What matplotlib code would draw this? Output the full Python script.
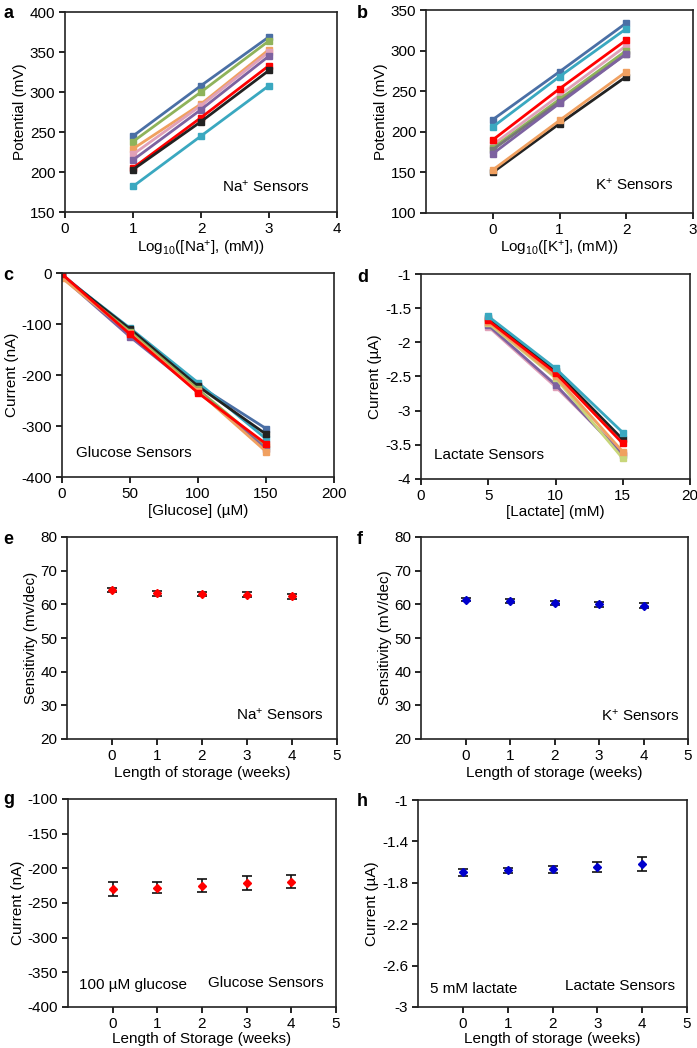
import matplotlib
matplotlib.use("Agg")
import matplotlib.pyplot as plt
import numpy as np

plt.rcParams['font.family'] = ['Liberation Sans', 'DejaVu Sans']
plt.rcParams['mathtext.fontset'] = 'custom'
plt.rcParams['mathtext.rm'] = 'Liberation Sans'
plt.rcParams['mathtext.it'] = 'Liberation Sans'
plt.rcParams['font.size'] = 11
plt.rcParams['axes.unicode_minus'] = False

W, H = 697, 1048

# ---- data ----
# a: Na+ sensors, potential (mV) vs log10 [Na+]
na_x = [1, 2, 3]
na_series = {
    'blue':   [245, 308, 369],
    'green':  [238, 300, 364],
    'orange': [229, 285, 353],
    'pink':   [222, 283, 350],
    'purple': [215, 278, 345],
    'red':    [205, 268, 333],
    'black':  [203, 263, 327],
    'cyan':   [182, 245, 308],
}

# b: K+ sensors
k_x = [0, 1, 2]
k_series = {
    'blue':   [215, 274, 334],
    'cyan':   [206, 268, 327],
    'pink':   [184, 245, 306],
    'green':  [180, 240, 300],
    'gray':   [178, 237, 296],
    'purple': [173, 235, 296],
    'red':    [190, 253, 313],
    'black':  [150, 210, 268],
    'orange': [153, 214, 274],
}

# c: glucose sensors, current (nA)
glu_x = [0, 50, 100, 150]
glu_series = {
    'blue':   [-3, -112, -220, -305],
    'cyan':   [-5, -108, -215, -325],
    'black':  [-5, -110, -222, -316],
    'green':  [-8, -115, -228, -340],
    'purple': [-8, -125, -232, -345],
    'orange': [-10, -118, -232, -350],
    'red':    [-2, -120, -235, -335],
}

# d: lactate sensors, current (uA)
lac_x = [5, 10, 15]
lac_series = {
    'pink':   [-1.77, -2.65, -3.62],
    'purple': [-1.75, -2.62, -3.65],
    'yellow': [-1.72, -2.52, -3.70],
    'orange': [-1.70, -2.50, -3.60],
    'black':  [-1.65, -2.42, -3.42],
    'red':    [-1.68, -2.45, -3.48],
    'cyan':   [-1.62, -2.38, -3.32],
}

weeks = [0, 1, 2, 3, 4]
na_sens = [64.2, 63.3, 63.1, 62.9, 62.4]
na_sens_err = [0.6, 0.7, 0.7, 0.7, 0.8]
k_sens = [61.4, 60.9, 60.4, 60.0, 59.6]
k_sens_err = [0.5, 0.6, 0.7, 0.7, 0.8]
glu_cur = [-230, -228, -225, -221, -219]
glu_cur_err = [10, 8, 9, 10, 10]
lac_cur = [-1.70, -1.68, -1.67, -1.65, -1.62]
lac_cur_err = [0.03, 0.025, 0.035, 0.05, 0.07]

colors = {
    'blue': '#4a6fa5', 'green': '#8fb35a', 'orange': '#f0a060',
    'pink': '#e0a0b8', 'purple': '#7d62a0', 'red': '#ff0000',
    'black': '#222222', 'cyan': '#3aa8c0', 'gray': '#777777',
    'yellow': '#c8d67a',
}


def add_ax(l, t, r, b):
    ax = fig.add_axes([l / W, 1 - b / H, (r - l) / W, (b - t) / H])
    ax.tick_params(direction='out', length=4, width=1.2, top=False, right=False, pad=3)
    for s in ax.spines.values():
        s.set_linewidth(1.2)
        s.set_color('#222222')
    return ax


def lines(ax, x, series, marker='s'):
    for name, y in series.items():
        ax.plot(x, y, '-', marker=marker, color=colors[name], lw=2,
                ms=5, mec=colors[name])


def errs(ax, y, e, mcolor):
    ax.errorbar(weeks, y, yerr=e, fmt='D', color=mcolor, ms=4,
                ecolor='#111111', elinewidth=1.2, capsize=3.5, capthick=1.2)


def label(ax, x, y, s, ha='center'):
    ax.text(x, y, s, transform=ax.transAxes, ha=ha, va='center')


fig = plt.figure(figsize=(W / 100, H / 100), dpi=100)

# a
ax = add_ax(65, 12, 337, 212)
lines(ax, na_x, na_series)
ax.set_xlim(0, 4)
ax.set_ylim(150, 400)
ax.set_xticks([0, 1, 2, 3, 4])
ax.set_yticks(range(150, 401, 50))
ax.set_xlabel(r'Log$_{10}$([Na$^{+}$], (mM))', labelpad=2)
ax.set_ylabel('Potential (mV)', labelpad=2)
label(ax, 0.74, 0.125, r'Na$^{+}$ Sensors')

# b
ax = add_ax(426, 10, 693, 213)
lines(ax, k_x, k_series)
ax.set_xlim(-1, 3)
ax.set_ylim(100, 350)
ax.set_xticks([0, 1, 2, 3])
ax.set_yticks(range(100, 351, 50))
ax.set_xlabel(r'Log$_{10}$([K$^{+}$], (mM))', labelpad=2)
ax.set_ylabel('Potential (mV)', labelpad=2)
label(ax, 0.78, 0.14, r'K$^{+}$ Sensors')

# c
ax = add_ax(62, 273, 334, 477)
lines(ax, glu_x, glu_series)
ax.set_xlim(0, 200)
ax.set_ylim(-400, 0)
ax.set_xticks(range(0, 201, 50))
ax.set_yticks(range(-400, 1, 100))
ax.set_xlabel('[Glucose] (µM)', labelpad=2)
ax.set_ylabel('Current (nA)', labelpad=2)
label(ax, 0.05, 0.12, 'Glucose Sensors', ha='left')

# d
ax = add_ax(421, 274, 690, 479)
lines(ax, lac_x, lac_series)
ax.set_xlim(0, 20)
ax.set_ylim(-4, -1)
ax.set_xticks(range(0, 21, 5))
ax.set_yticks([-4, -3.5, -3, -2.5, -2, -1.5, -1])
ax.set_yticklabels(['-4', '-3.5', '-3', '-2.5', '-2', '-1.5', '-1'])
ax.set_xlabel('[Lactate] (mM)', labelpad=2)
ax.set_ylabel('Current (µA)', labelpad=2)
label(ax, 0.05, 0.117, 'Lactate Sensors', ha='left')

# e
ax = add_ax(67, 537, 337, 739)
errs(ax, na_sens, na_sens_err, '#ff0000')
ax.set_xlim(-1, 5)
ax.set_ylim(20, 80)
ax.set_xticks(range(0, 6))
ax.set_yticks(range(20, 81, 10))
ax.set_xlabel('Length of storage (weeks)', labelpad=2)
ax.set_ylabel('Sensitivity (mv/dec)', labelpad=2)
label(ax, 0.79, 0.12, r'Na$^{+}$ Sensors')

# f
ax = add_ax(421, 537, 688, 739)
errs(ax, k_sens, k_sens_err, '#0000cc')
ax.set_xlim(-1, 5)
ax.set_ylim(20, 80)
ax.set_xticks(range(0, 6))
ax.set_yticks(range(20, 81, 10))
ax.set_xlabel('Length of storage (weeks)', labelpad=2)
ax.set_ylabel('Sensitivity (mV/dec)', labelpad=2)
label(ax, 0.82, 0.115, r'K$^{+}$ Sensors')

# g
ax = add_ax(68, 799, 336, 1007)
errs(ax, glu_cur, glu_cur_err, '#ff0000')
ax.set_xlim(-1, 5)
ax.set_ylim(-400, -100)
ax.set_xticks(range(0, 6))
ax.set_yticks(range(-400, -99, 50))
ax.set_xlabel('Length of Storage (weeks)', labelpad=1)
ax.set_ylabel('Current (nA)', labelpad=2)
label(ax, 0.04, 0.105, '100 µM glucose', ha='left')
label(ax, 0.955, 0.115, 'Glucose Sensors', ha='right')

# h
ax = add_ax(418, 800, 687, 1007)
errs(ax, lac_cur, lac_cur_err, '#0000cc')
ax.set_xlim(-1, 5)
ax.set_ylim(-3, -1)
ax.set_xticks(range(0, 6))
ax.set_yticks([-3, -2.6, -2.2, -1.8, -1.4, -1])
ax.set_yticklabels(['-3', '-2.6', '-2.2', '-1.8', '-1.4', '-1'])
ax.set_xlabel('Length of storage (weeks)', labelpad=1)
ax.set_ylabel('Current (µA)', labelpad=2)
label(ax, 0.045, 0.087, '5 mM lactate', ha='left')
label(ax, 0.955, 0.1, 'Lactate Sensors', ha='right')

# panel letters
for letter, (px, py) in zip('abcdefgh', [(3, 14), (357, 14), (3, 275), (357, 278),
                                        (3, 540), (357, 540), (3, 800), (357, 802)]):
    fig.text(px / W, 1 - py / H, letter, fontsize=13, fontweight='bold', va='center')

fig.savefig('out.png', dpi=100)
